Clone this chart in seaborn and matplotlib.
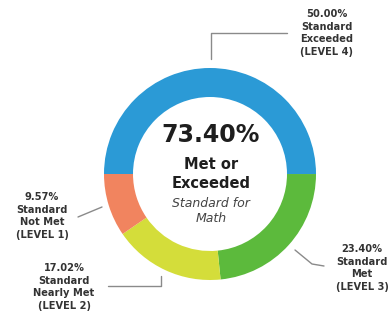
import matplotlib
matplotlib.use("Agg")
import seaborn as sns
import matplotlib.pyplot as plt

# achievement levels, in drawing order (clockwise from 9 o'clock)
level_names = ["Standard\nExceeded", "Standard\nMet", "Standard\nNearly Met", "Standard\nNot Met"]
level_tags = ["(LEVEL 4)", "(LEVEL 3)", "(LEVEL 2)", "(LEVEL 1)"]
level_pct = [50.00, 23.40, 17.02, 9.57]
level_colors = ["#2b9ad6", "#5cba3c", "#d4dd3a", "#f1845f"]
subject = "Math"

# label anchors (pixel coords) and leader lines
label_pos = [(327, 33), (362, 268), (64, 287), (42, 216)]
leaders = [
    [(211, 59), (211, 33), (287, 33)],
    [(295, 250), (312, 264), (324, 266)],
    [(161, 276), (161, 286), (108, 286)],
    [(102, 207), (78, 217)],
]

sns.set_theme(style="white")
plt.rcParams["font.family"] = ["DejaVu Sans"]

fig = plt.figure(figsize=(3.91, 3.16), dpi=100)
ax = fig.add_axes([0, 0, 1, 1])

ax.pie(
    level_pct,
    colors=level_colors,
    startangle=180,
    counterclock=True,
    center=(210, 174),
    radius=106,
    wedgeprops=dict(width=29, edgecolor="none"),
)
ax.set_xlim(0, 391)
ax.set_ylim(316, 0)
ax.set_aspect("equal")
ax.axis("off")

for name, tag, pct, (x, y) in zip(level_names, level_tags, level_pct, label_pos):
    ax.text(x, y, f"{pct:.2f}%\n{name}\n{tag}", ha="center", va="center",
            fontsize=7.1, fontweight="bold", color="#333333", linespacing=1.35)

for pts in leaders:
    xs, ys = zip(*pts)
    ax.plot(xs, ys, color="#8a8a8a", lw=1)

met_total = level_pct[0] + level_pct[1]
ax.text(211, 135, f"{met_total:.2f}%", ha="center", va="center",
        fontsize=17, fontweight="bold", color="#1e1e1e")
ax.text(211, 174, "Met or\nExceeded", ha="center", va="center",
        fontsize=10.5, fontweight="bold", color="#1e1e1e", linespacing=1.3)
ax.text(211, 211, f"Standard for\n{subject}", ha="center", va="center",
        fontsize=9, fontstyle="italic", color="#444444", linespacing=1.2)

fig.savefig("out.png", dpi=100)
